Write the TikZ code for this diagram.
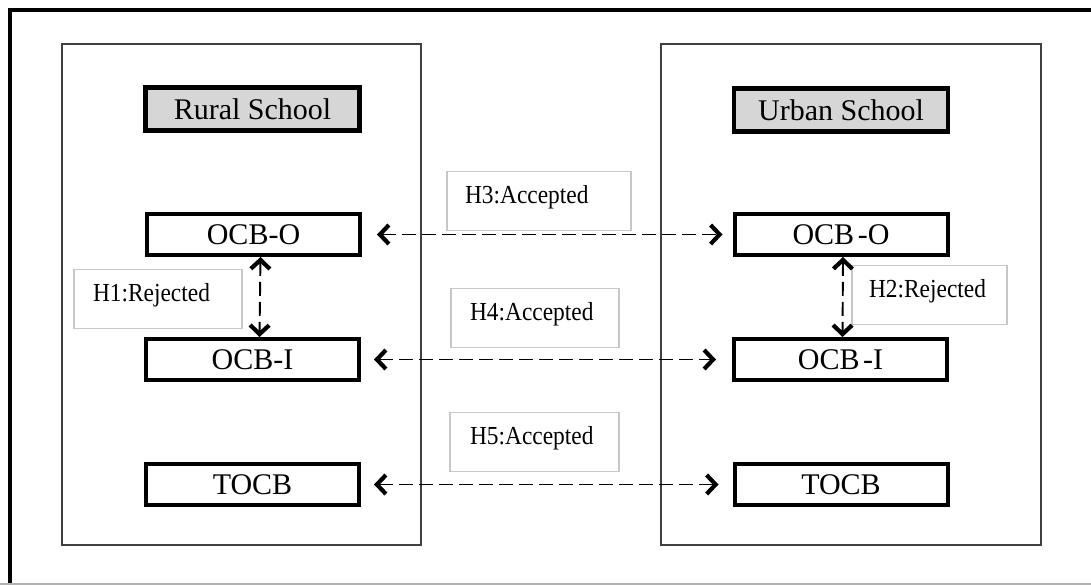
\documentclass[tikz,border=0pt]{standalone}
\usepackage{fontspec}
\setmainfont{Liberation Serif}
\newfontfamily\hypfont{Liberation Serif}[FakeStretch=0.9]
\usetikzlibrary{arrows.meta}
\begin{document}
\begin{tikzpicture}[x=1pt,y=-1pt,
  frame/.style={draw=black, line width=3.5pt},
  panel/.style={draw=black!75, line width=2pt},
  titlebox/.style={draw=black, line width=4.5pt, fill=black!16, minimum width=214pt, minimum height=43pt, inner sep=0pt, font=\fontsize{30}{34}\selectfont},
  varbox/.style={draw=black, line width=4pt, minimum width=213pt, minimum height=41pt, inner sep=0pt, font=\fontsize{30}{34}\selectfont},
  hypbox/.style={draw=black!22, line width=1.5pt, inner ysep=0pt, inner xsep=18pt, minimum height=59pt, align=left, font=\hypfont\fontsize{26}{28}\selectfont, text height=18pt, text depth=13pt},
  barb/.tip={Straight Barb[length=9pt,width=19pt,line width=4.2pt]},
  link/.style={line width=1.9pt, dash pattern=on 14pt off 6pt, barb-barb}
]
\useasboundingbox (0,0) rectangle (1091,585);
% outer frame (cut by the page edge on the right and bottom)
\draw[frame] (10,585) -- (10,10) -- (1091,10);
\draw[black!30, line width=1.5pt] (0,584) -- (1091,584);
% panels
\draw[panel] (62,44) rectangle (421,545);
\draw[panel] (661,44) rectangle (1041,545);
% titles
\node[titlebox] (rural) at (252.5,109) {Rural School};
\node[titlebox] (urban) at (841,110) {Urban School};
% variables
\node[varbox] (o1) at (253.5,234.5) {OCB-O};
\node[varbox] (i1) at (252.5,359.5) {OCB-I};
\node[varbox] (t1) at (252.5,484.5) {TOCB};
\node[varbox] (o2) at (841,234.5) {OCB\hspace{0.12em}-O};
\node[varbox] (i2) at (840.5,359.5) {OCB\hspace{0.12em}-I};
\node[varbox] (t2) at (841,484.5) {TOCB};
% hypotheses
\node[hypbox, text width=148pt] (h3) at (539,201) {H3:Accepted};
\node[hypbox, text width=130pt, inner xsep=19pt] (h4) at (535,318) {H4:Accepted};
\node[hypbox, text width=129pt, inner xsep=20pt] (h5) at (534.5,442) {H5:Accepted};
\node[hypbox, text width=130pt, inner xsep=19pt] (h1) at (158,299) {H1:Rejected};
\node[hypbox, text width=121pt, inner xsep=17pt] (h2) at (929.5,295) {H2:Rejected};
% connectors
\draw[link, shorten <=15pt, shorten >=10pt] (o1.east) -- (o2.west);
\draw[link, shorten <=13pt, shorten >=16pt] (i1.east) -- (i2.west);
\draw[link, shorten <=13pt, shorten >=14pt] (t1.east) -- (t2.west);
\draw[link] ([xshift=7pt]o1.south) -- ([xshift=7pt]i1.north);
\draw[link] ([xshift=2pt]o2.south) -- ([xshift=2pt]i2.north);
\end{tikzpicture}
\end{document}
